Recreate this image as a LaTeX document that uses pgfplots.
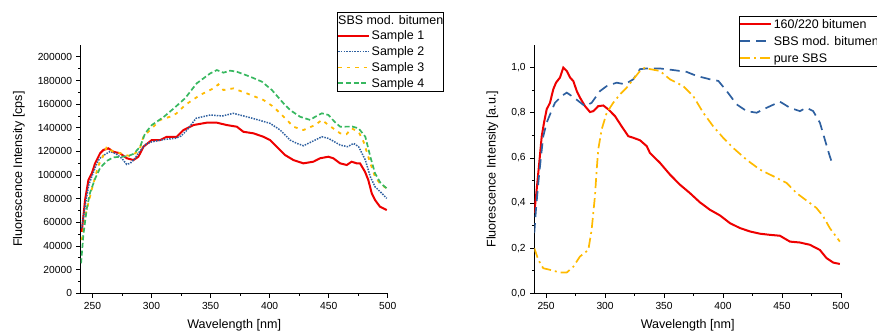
\documentclass[border=0pt]{standalone}
\usepackage{fontspec}
\setmainfont{Liberation Sans}
\usepackage{pgfplots}
\pgfplotsset{compat=1.18}
\definecolor{cred}{RGB}{238,0,0}
\definecolor{cblue}{RGB}{46,96,160}
\definecolor{cyel}{RGB}{255,186,0}
\definecolor{cgreen}{RGB}{56,184,96}
\pgfplotsset{
  myax/.style={
    scale only axis,
    axis lines=left,
    axis line style={-, line width=0.8bp, black},
    tick align=outside,
    major tick length=4.3bp,
    minor tick length=2.4bp,
    every tick/.style={black, line width=0.7bp},
    minor x tick num=1,
    minor y tick num=1,
    xmin=240, xmax=500,
    xtick={250,300,...,500},
    tick label style={font=\fontsize{10.3}{12}\selectfont},
    xticklabel style={anchor=center, yshift=-8.4bp},
    yticklabel style={anchor=east, inner sep=0pt, xshift=-4.1bp},
    label style={font=\fontsize{12.6}{14}\selectfont},
    xlabel style={at={(axis description cs:0.5,0)}, anchor=center, yshift=-31.7bp},
    /pgf/number format/assume math mode=true,
    legend cell align=left,
    legend image code/.code={\draw[#1] (0bp,0bp) -- (30.5bp,0bp);},
    legend style={draw=black, line width=0.8bp, inner sep=0pt, row sep=0pt,
      column sep=1.5bp, anchor=north west,
      nodes={inner xsep=0.5bp, inner ysep=0.5bp, text height=11.5bp, text depth=3.3bp,
        font=\fontsize{12.5}{14}\selectfont, line width=0.8bp}},
  }
}
\begin{document}
\begin{tikzpicture}
\useasboundingbox (0,0) rectangle (877bp,333bp);
% ---------------- left panel ----------------
\begin{axis}[myax,
  at={(80.6bp,39.7bp)}, anchor=south west,
  width=307.2bp, height=248.3bp,
  ymin=0, ymax=210000,
  ytick={0,20000,...,200000},
  scaled y ticks=false,
  yticklabel style={/pgf/number format/.cd, fixed, 1000 sep={}},
  xlabel={Wavelength [nm]},
  ylabel={Fluorescence Intensity [cps]},
  ylabel style={at={(axis description cs:0,0.5)}, anchor=center, yshift=61.7bp},
  legend style={at={(axis description cs:0.834,1.134)}},
]
\addlegendimage{empty legend}
\addlegendentry{\hspace{-33.5bp}SBS mod. bitumen}
\addplot[cred, line width=2bp] coordinates {
(241,52000) (243.8,78900) (246.6,95800) (249.5,101500) (252.3,110000) (256.5,118400)
(259.3,121200) (263.5,122600) (267.8,119700) (273.4,118400) (279.1,114200) (284.7,112700)
(288.9,115500) (293.2,124000) (300.2,129600) (307.3,129600) (312.9,132400) (321.4,132400)
(327,138000) (335.5,142300) (346.8,144300) (355.3,144300) (363.7,142300) (372.2,140900)
(377.8,136600) (386.3,135300) (394.7,132400) (400.4,129600) (406,124000) (413.1,116900)
(420.1,112700) (428.6,109900) (437,111300) (442.7,114200) (449.7,115500) (453.9,114200)
(459.6,109900) (465.2,108500) (469.4,111300) (473.7,109900) (476.5,109900) (480.7,102800)
(483.5,95800) (486.4,84600) (489.2,78900) (493.4,73200) (499.1,70400)
};
\addlegendentry{Sample 1}
\addplot[cblue, line width=1.5bp, dash pattern=on 1.5bp off 1.2bp] coordinates {
(241,55000) (244,75000) (247,92000) (250,100000) (253,108000) (256,114000) (260,117000)
(265,120000) (270,118000) (275,114000) (279,109000) (282,110000) (286,114000) (290,120000)
(295,126000) (300,128000) (310,130000) (320,131000) (325,133000) (330,138000)
(337.7,148000) (349.7,150800) (360,150000) (369.3,152200) (380.6,149300) (390.5,146600)
(400.4,143700) (408.9,138100) (417.3,129600) (423,126800) (428.6,124800) (438.5,129600)
(444.2,132400) (449.8,131000) (459.7,125400) (466,124000) (471.1,126800) (475.3,124000)
(481,112700) (485.2,98600) (489.2,90100) (494.9,84600) (499.1,80300)
};
\addlegendentry{Sample 2}
\addplot[cyel, line width=1.8bp, dash pattern=on 3.5bp off 5bp] coordinates {
(241,45000) (245,70000) (250,90000) (255,108000) (259,116000) (262.2,124000) (267,120000)
(272,119000) (278,117000) (282,116000) (286.2,118400) (290,122000) (293.2,132400)
(298.8,138100) (307.3,146600) (315.7,149400) (321,152000) (328.4,159200) (341.1,167700)
(352.4,173300) (356.6,176700) (360.8,171900) (369.3,173300) (380.6,169100) (394.7,163500)
(403.2,157800) (414.5,146600) (420.1,140900) (428.6,138100) (438.5,142300) (444.2,146600)
(449.8,142300) (459.7,135300) (465,134500) (469.4,139500) (475.3,136600) (479.5,128200)
(485.2,110000) (489.2,98600) (494,92000) (499.1,88800)
};
\addlegendentry{Sample 3}
\addplot[cgreen, line width=1.7bp, dash pattern=on 5bp off 2.7bp] coordinates {
(240.4,25400) (242.4,50000) (245.3,72000) (248,85000) (252.3,97000) (256.5,106000)
(262.2,112000) (267.8,115000) (275,115500) (280,116000) (285,118000) (290.4,124000)
(294.6,135300) (300.3,142300) (310.5,149300) (318.9,156400) (328.4,164900) (338.3,177600)
(349.7,186000) (355.3,188800) (360.9,186600) (366.6,188300) (372.2,187400) (383.5,183200)
(393.4,179000) (401.9,171900) (411.7,160700) (417.3,155000) (425.8,149300) (434.3,146600)
(438.5,149300) (444.2,152200) (449.8,150800) (455,145000) (459.7,140900) (470,141000)
(475.3,139500) (481,132400) (485.2,115500) (489.2,101500) (494,93000) (499.1,88800)
};
\addlegendentry{Sample 4}
\end{axis}
% ---------------- right panel ----------------
\begin{axis}[myax,
  at={(534.3bp,39.7bp)}, anchor=south west,
  width=306.7bp, height=248.3bp,
  ymin=0, ymax=1.1,
  ytick={0,0.2,...,1.0},
  yticklabel style={/pgf/number format/.cd, fixed, fixed zerofill, precision=1, use comma},
  xlabel={Wavelength [nm]},
  ylabel={Fluorescence Intensity [a.u.]},
  ylabel style={at={(axis description cs:0,0.5)}, anchor=center, yshift=42bp},
  legend style={at={(axis description cs:0.667,1.118)},
    nodes={text height=12.2bp, text depth=3.6bp}},
]
\addplot[cred, line width=2bp] coordinates {
(240,0.355) (242,0.459) (244.2,0.578) (246.3,0.696) (248.2,0.755) (250.5,0.815)
(253.3,0.844) (256.1,0.904) (258.4,0.933) (261.8,0.956) (264.6,1.000) (267.5,0.985)
(270.3,0.956) (273.1,0.940) (276,0.896) (278.7,0.867) (283,0.829) (287.2,0.803)
(290,0.807) (294.2,0.829) (298.5,0.832) (302.7,0.815) (308.4,0.785) (314,0.740)
(319.7,0.696) (323.9,0.689) (329.6,0.678) (335.3,0.652) (338,0.622) (346.5,0.578)
(355,0.526) (363.5,0.481) (371.9,0.444) (380.4,0.403) (388.9,0.370) (397.4,0.345)
(405.8,0.311) (414.3,0.289) (422.8,0.274) (431.3,0.264) (439.7,0.259) (448.2,0.255)
(456.7,0.229) (465.1,0.225) (473.6,0.215) (482.1,0.192) (487.7,0.156) (493.4,0.136)
(499,0.130)
};
\addlegendentry{160/220 bitumen}
\addplot[cblue, line width=1.7bp, dash pattern=on 10bp off 6bp] coordinates {
(240,0.267) (241.4,0.370) (243.4,0.489) (245.7,0.607) (247.6,0.696) (250.5,0.756)
(253.3,0.792) (257.5,0.844) (263.2,0.874) (267.5,0.889) (271.7,0.874) (277.3,0.852)
(283,0.829) (288.6,0.844) (295.7,0.896) (301.4,0.918) (309.8,0.933) (316.9,0.926)
(323.9,0.948) (329.6,0.993) (335.3,0.996) (346.5,0.996) (357.8,0.989) (369.1,0.981)
(377.6,0.963) (388.9,0.948) (396,0.941) (403.1,0.896) (411.5,0.837) (420,0.807)
(428.5,0.800) (437,0.822) (448.2,0.849) (456.7,0.822) (465.1,0.807) (470.8,0.822)
(476.4,0.807) (482.1,0.756) (486.3,0.681) (490.5,0.607) (493.4,0.563)
};
\addlegendentry{SBS mod. bitumen}
\addplot[cyel, line width=1.7bp, dash pattern=on 10bp off 4bp on 2bp off 4bp] coordinates {
(240,0.200) (243.4,0.148) (247.6,0.111) (253.3,0.104) (261.8,0.092) (267.5,0.092)
(273.1,0.118) (278.7,0.163) (285.8,0.192) (288.6,0.281) (291.4,0.430) (292.9,0.548)
(294.2,0.637) (297.1,0.726) (301.4,0.800) (306.9,0.844) (312.6,0.881) (318.3,0.911)
(323.9,0.948) (329.6,0.985) (333.8,1.000) (335.3,0.996) (346.5,0.985) (355,0.948)
(366.2,0.918) (374.7,0.874) (383.2,0.800) (391.6,0.740) (400.1,0.689) (408.6,0.644)
(419.9,0.592) (431.2,0.548) (442.5,0.519) (453.8,0.489) (462.3,0.444) (473.6,0.400)
(479.2,0.378) (484.9,0.341) (490.5,0.289) (499,0.229)
};
\addlegendentry{pure SBS}
\end{axis}
\end{tikzpicture}
\end{document}
